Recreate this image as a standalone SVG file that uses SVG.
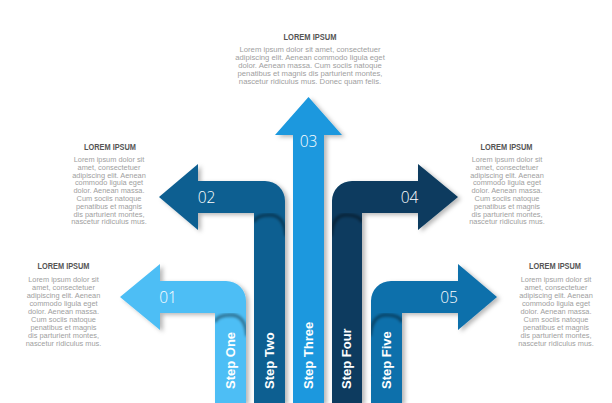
<svg xmlns="http://www.w3.org/2000/svg" width="612" height="403" viewBox="0 0 612 403">
<style>
.hd{font-family:"Liberation Sans",Arial,sans-serif;font-weight:bold;font-size:8.5px;fill:#555;text-anchor:middle}
.bd{font-family:"Liberation Sans",Arial,sans-serif;font-size:7.4px;fill:#a0a0a0;text-anchor:middle}
.bdt{font-size:7.7px}
.num{font-family:"Open Sans","Liberation Sans",sans-serif;font-weight:300;font-size:15.5px;fill:#fff;text-anchor:middle}
.step{font-family:"Liberation Sans",Arial,sans-serif;font-weight:bold;font-size:13px;fill:#fff}
.fold{fill:none;stroke:#000;stroke-opacity:0.45;stroke-width:3}
</style>
<defs>
<filter id="sh" x="-20%" y="-20%" width="140%" height="140%">
<feDropShadow dx="3" dy="2" stdDeviation="2.2" flood-color="#000" flood-opacity="0.28"/>
</filter>
<filter id="bl" x="-50%" y="-50%" width="200%" height="200%">
<feGaussianBlur stdDeviation="1.6"/>
</filter>
<clipPath id="c1"><rect x="215" y="313" width="31" height="90"/></clipPath>
<clipPath id="c2"><rect x="254" y="213" width="31" height="190"/></clipPath>
<clipPath id="c4"><rect x="332" y="213" width="30" height="190"/></clipPath>
<clipPath id="c5"><rect x="371" y="313" width="31" height="90"/></clipPath>
</defs>
<rect width="612" height="403" fill="#fff"/>

<g id="connectors"></g>

<g id="text-top">
<text class="hd" x="310" y="40" textLength="53" lengthAdjust="spacingAndGlyphs">LOREM IPSUM</text>
<text class="bd bdt"><tspan x="310" y="52">Lorem ipsum dolor sit amet, consectetuer</tspan><tspan x="310" dy="7.9">adipiscing elit. Aenean commodo ligula eget</tspan><tspan x="310" dy="7.9">dolor. Aenean massa. Cum sociis natoque</tspan><tspan x="310" dy="7.9">penatibus et magnis dis parturient montes,</tspan><tspan x="310" dy="7.9">nascetur ridiculus mus. Donec quam felis.</tspan></text>
</g>

<g id="text-02">
<text class="hd" x="110" y="150" textLength="52" lengthAdjust="spacingAndGlyphs">LOREM IPSUM</text>
<text class="bd"><tspan x="109" y="162">Lorem ipsum dolor sit</tspan><tspan x="109" dy="7.8">amet, consectetuer</tspan><tspan x="109" dy="7.8">adipiscing elit. Aenean</tspan><tspan x="109" dy="7.8">commodo ligula eget</tspan><tspan x="109" dy="7.8">dolor. Aenean massa.</tspan><tspan x="109" dy="7.8">Cum sociis natoque</tspan><tspan x="109" dy="7.8">penatibus et magnis</tspan><tspan x="109" dy="7.8">dis parturient montes,</tspan><tspan x="109" dy="7.8">nascetur ridiculus mus.</tspan></text>
</g>

<g id="text-04">
<text class="hd" x="506.5" y="150" textLength="52" lengthAdjust="spacingAndGlyphs">LOREM IPSUM</text>
<text class="bd"><tspan x="507" y="162">Lorem ipsum dolor sit</tspan><tspan x="507" dy="7.8">amet, consectetuer</tspan><tspan x="507" dy="7.8">adipiscing elit. Aenean</tspan><tspan x="507" dy="7.8">commodo ligula eget</tspan><tspan x="507" dy="7.8">dolor. Aenean massa.</tspan><tspan x="507" dy="7.8">Cum sociis natoque</tspan><tspan x="507" dy="7.8">penatibus et magnis</tspan><tspan x="507" dy="7.8">dis parturient montes,</tspan><tspan x="507" dy="7.8">nascetur ridiculus mus.</tspan></text>
</g>

<g id="text-01">
<text class="hd" x="63.5" y="269" textLength="52" lengthAdjust="spacingAndGlyphs">LOREM IPSUM</text>
<text class="bd"><tspan x="63.5" y="282">Lorem ipsum dolor sit</tspan><tspan x="63.5" dy="8">amet, consectetuer</tspan><tspan x="63.5" dy="8">adipiscing elit. Aenean</tspan><tspan x="63.5" dy="8">commodo ligula eget</tspan><tspan x="63.5" dy="8">dolor. Aenean massa.</tspan><tspan x="63.5" dy="8">Cum sociis natoque</tspan><tspan x="63.5" dy="8">penatibus et magnis</tspan><tspan x="63.5" dy="8">dis parturient montes,</tspan><tspan x="63.5" dy="8">nascetur ridiculus mus.</tspan></text>
</g>

<g id="text-05">
<text class="hd" x="555" y="269" textLength="52" lengthAdjust="spacingAndGlyphs">LOREM IPSUM</text>
<text class="bd"><tspan x="556" y="282">Lorem ipsum dolor sit</tspan><tspan x="556" dy="8">amet, consectetuer</tspan><tspan x="556" dy="8">adipiscing elit. Aenean</tspan><tspan x="556" dy="8">commodo ligula eget</tspan><tspan x="556" dy="8">dolor. Aenean massa.</tspan><tspan x="556" dy="8">Cum sociis natoque</tspan><tspan x="556" dy="8">penatibus et magnis</tspan><tspan x="556" dy="8">dis parturient montes,</tspan><tspan x="556" dy="8">nascetur ridiculus mus.</tspan></text>
</g>

<g id="arrow-01">
<path d="M246,403 L246,301 A20,20 0 0 0 226,281 L160,281 L160,264 L120,297 L160,330 L160,313 L215,313 L215,403 Z" fill="#4dbef5" filter="url(#sh)"/>
<g clip-path="url(#c1)"><path class="fold" filter="url(#bl)" d="M215,322 C217,316 224,315 231,315 C240,315 246,322 247,336"/></g>
<text class="num" x="168" y="303">01</text>
<text class="step" transform="translate(234.5,389) rotate(-90)">Step One</text>
</g>

<g id="arrow-02">
<path d="M285,403 L285,201 A20,20 0 0 0 265,181 L198,181 L198,164 L159,197 L198,230 L198,213 L254,213 L254,403 Z" fill="#0d5e91" filter="url(#sh)"/>
<g clip-path="url(#c2)"><path class="fold" filter="url(#bl)" d="M254,222 C256,216 263,215 270,215 C279,215 285,222 286,236"/></g>
<text class="num" x="206.5" y="202.5">02</text>
<text class="step" transform="translate(273.5,389) rotate(-90)">Step Two</text>
</g>

<g id="arrow-03">
<path d="M293,403 L293,135 L275,135 L308.5,97 L342,135 L324,135 L324,403 Z" fill="#1a98de" filter="url(#sh)"/>
<text class="num" x="308.5" y="147">03</text>
<text class="step" transform="translate(312.5,389) rotate(-90)">Step Three</text>
</g>

<g id="arrow-04">
<path d="M332,403 L332,201 A20,20 0 0 1 352,181 L418,181 L418,164 L458,197 L418,230 L418,213 L362,213 L362,403 Z" fill="#083a5e" filter="url(#sh)"/>
<g clip-path="url(#c4)"><path class="fold" filter="url(#bl)" d="M362,222 C360,216 353,215 346,215 C337,215 332,222 331,236"/></g>
<text class="num" x="409.5" y="202.5">04</text>
<text class="step" transform="translate(351,389) rotate(-90)">Step Four</text>
</g>

<g id="arrow-05">
<path d="M371,403 L371,301 A20,20 0 0 1 391,281 L458,281 L458,264 L497,297 L458,330 L458,313 L402,313 L402,403 Z" fill="#0b6fab" filter="url(#sh)"/>
<g clip-path="url(#c5)"><path class="fold" filter="url(#bl)" d="M402,322 C400,316 393,315 386,315 C377,315 371,322 370,336"/></g>
<text class="num" x="449" y="303">05</text>
<text class="step" transform="translate(390.5,389) rotate(-90)">Step Five</text>
</g>
</svg>
